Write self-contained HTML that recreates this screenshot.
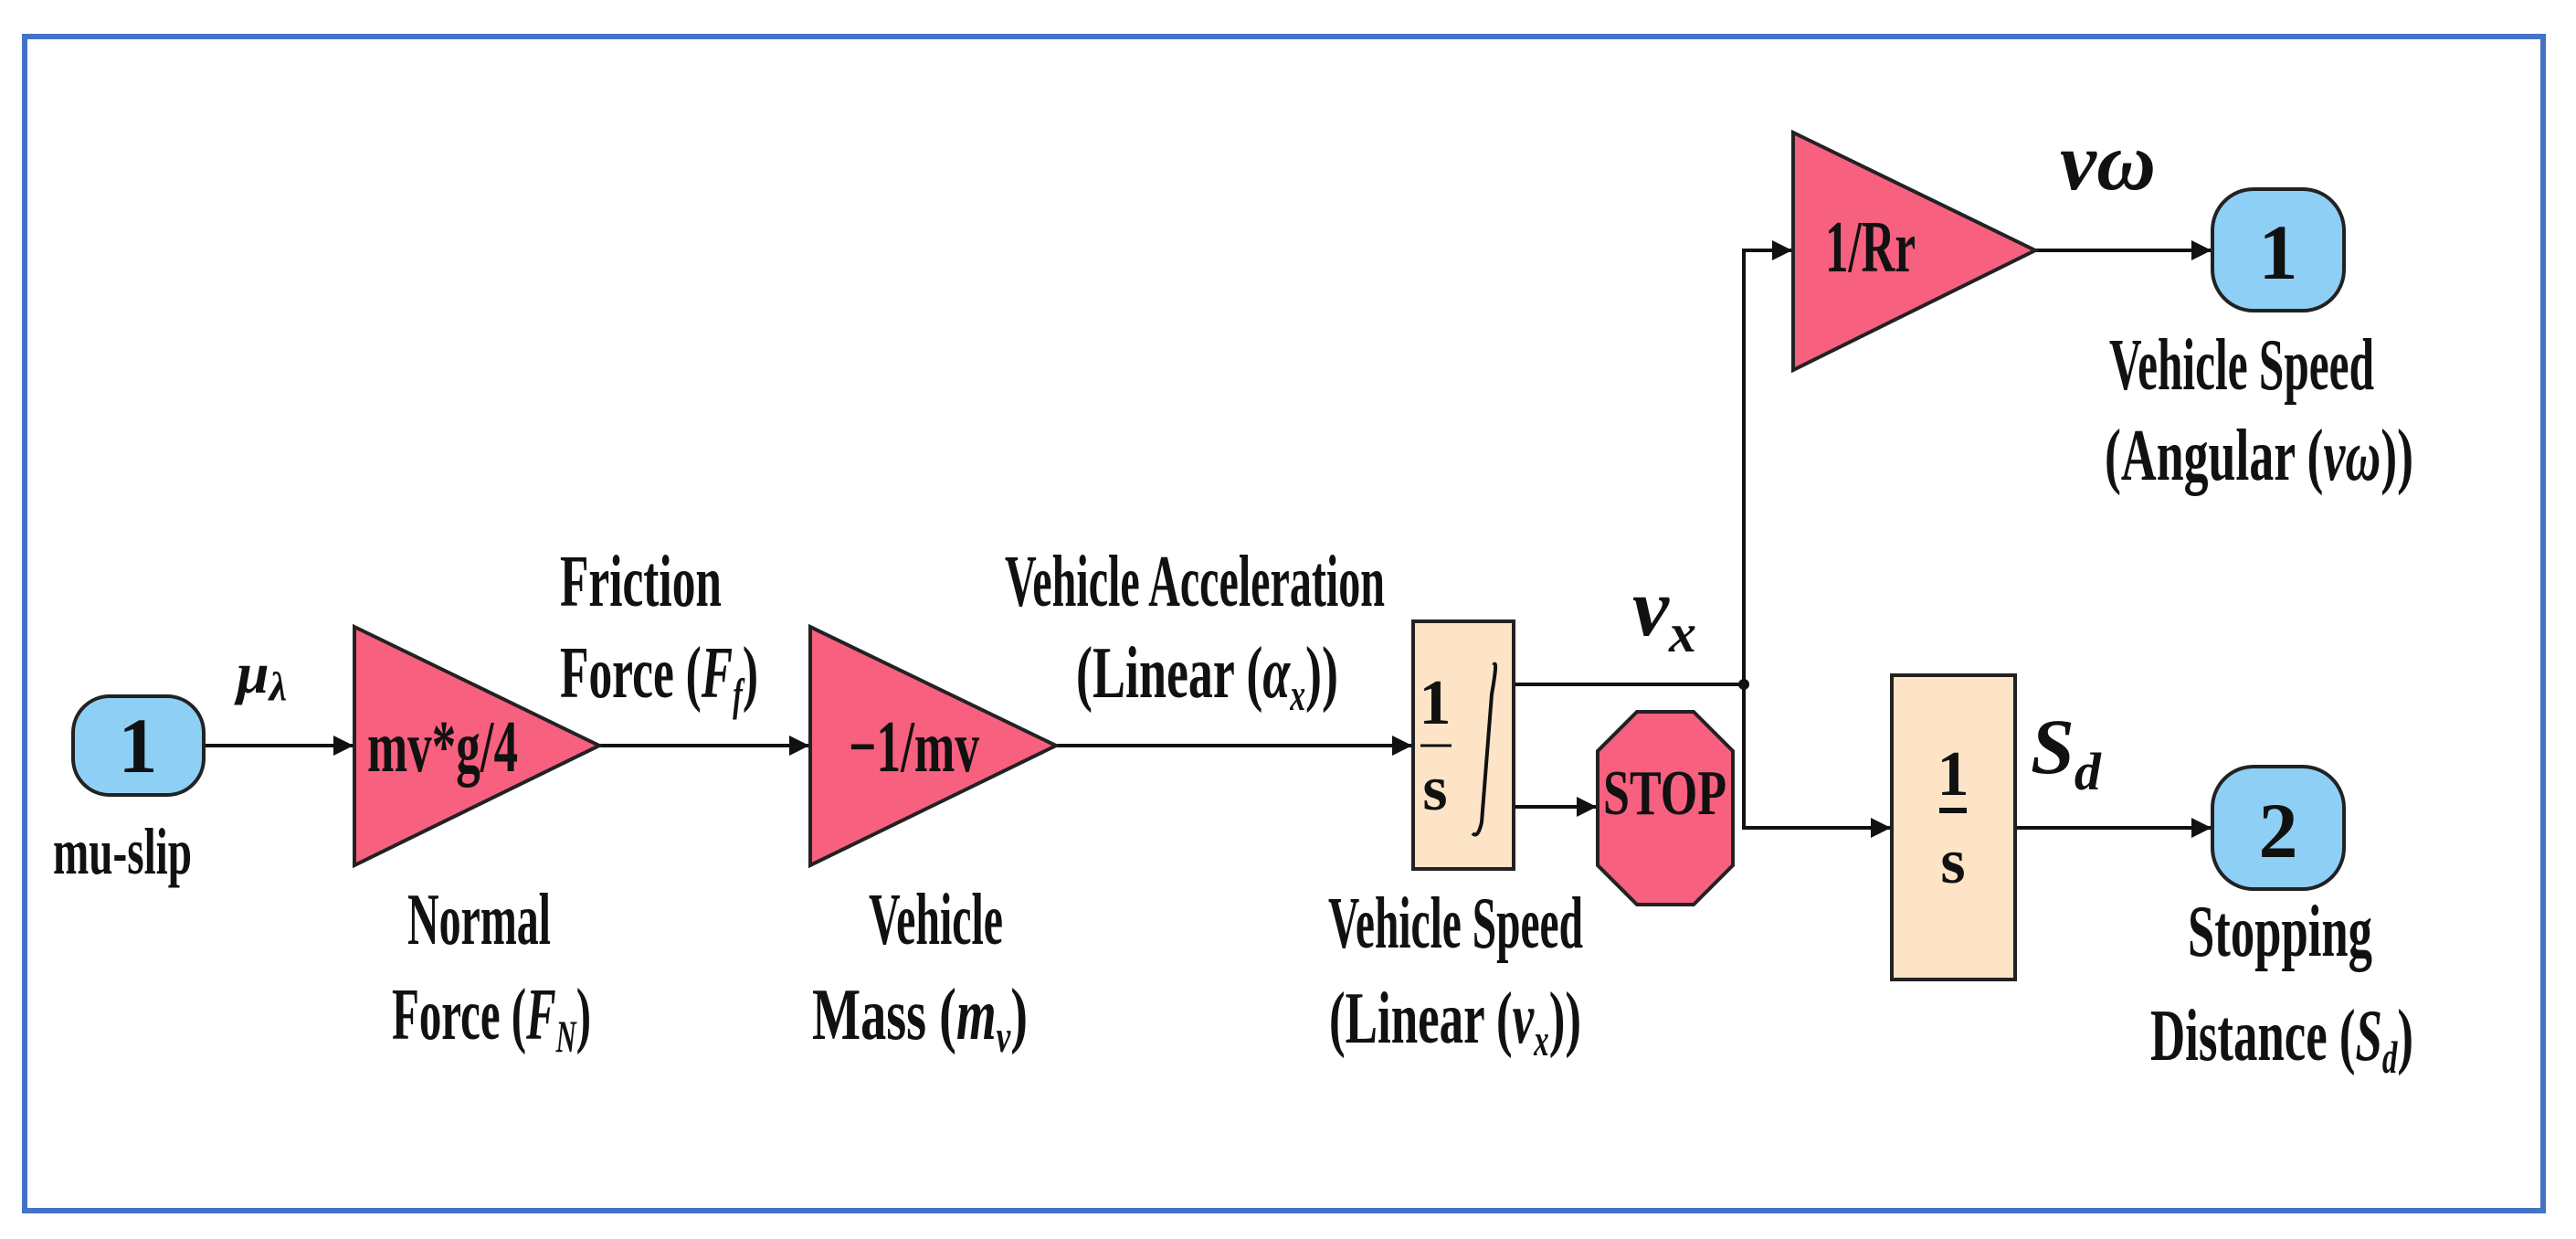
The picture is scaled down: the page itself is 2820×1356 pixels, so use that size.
<!DOCTYPE html>
<html><head><meta charset="utf-8"><style>
html,body{margin:0;padding:0;background:#fff;width:2820px;height:1356px;overflow:hidden}
svg{display:block}
text{font-family:"Liberation Serif","DejaVu Serif",serif;font-weight:bold;fill:#111}
.it{font-style:italic}
</style></head><body>
<svg width="2820" height="1356" viewBox="0 0 2820 1356" xmlns="http://www.w3.org/2000/svg">
<defs>
<marker id="b" markerWidth="22" markerHeight="22" refX="21" refY="11" orient="auto" markerUnits="userSpaceOnUse" viewBox="0 0 22 22"><path d="M0,0L22,11L0,22z" fill="#111"/></marker></defs>
<rect x="27" y="40" width="2757" height="1285" fill="none" stroke="#4472C4" stroke-width="6"/>
<g stroke="#111" stroke-width="4" fill="none">
<line x1="223" y1="816" x2="386" y2="816" marker-end="url(#b)"/>
<line x1="656" y1="816" x2="885" y2="816" marker-end="url(#b)"/>
<line x1="1156" y1="816" x2="1545" y2="816" marker-end="url(#b)"/>
<polyline points="1657,749 1909,749"/>
<polyline points="1909,749 1909,274 1961,274" marker-end="url(#b)"/>
<polyline points="1909,749 1909,906 2069,906" marker-end="url(#b)"/>
<line x1="1657" y1="883" x2="1747" y2="883" marker-end="url(#b)"/>
<line x1="2228" y1="274" x2="2420" y2="274" marker-end="url(#b)"/>
<line x1="2206" y1="906" x2="2420" y2="906" marker-end="url(#b)"/>
</g>
<circle cx="1909" cy="749" r="6" fill="#111"/>
<g stroke="#222" stroke-width="4">
<rect x="80" y="762" width="143" height="108" rx="40" fill="#8ECFF5"/>
<rect x="2422" y="207" width="144" height="133" rx="45" fill="#8ECFF5"/>
<rect x="2422" y="839" width="144" height="134" rx="45" fill="#8ECFF5"/>
<polygon points="388,686 656,816 388,947" fill="#F7607F"/>
<polygon points="887,686 1156,816 887,947" fill="#F7607F"/>
<polygon points="1963,145 2228,274 1963,405" fill="#F7607F"/>
<rect x="1547" y="680" width="110" height="271" fill="#FDE4C6"/>
<rect x="2071" y="739" width="135" height="333" fill="#FDE4C6"/>
<polygon points="1792,779 1854,779 1897,822 1897,947 1854,990 1792,990 1749,947 1749,822" fill="#F7607F"/>
</g>
<g font-size="80">
<text x="151" y="845" text-anchor="middle" font-size="86">1</text>
<text x="2494" y="305" text-anchor="middle" font-size="86">1</text>
<text x="2494" y="938" text-anchor="middle" font-size="86">2</text>
<text x="58" y="956" textLength="152" lengthAdjust="spacingAndGlyphs" font-size="72">mu-slip</text>
<text x="402" y="844" textLength="165" lengthAdjust="spacingAndGlyphs">mv*g/4</text>
<text x="929" y="844" textLength="143" lengthAdjust="spacingAndGlyphs">−1/mv</text>
<text x="1998" y="297" textLength="99" lengthAdjust="spacingAndGlyphs">1/Rr</text>
<text x="1755" y="891" textLength="135" lengthAdjust="spacingAndGlyphs" font-size="70">STOP</text>
<text x="613" y="663" textLength="177" lengthAdjust="spacingAndGlyphs">Friction</text>
<text x="613" y="763" textLength="217" lengthAdjust="spacingAndGlyphs">Force (<tspan class="it">F<tspan font-size="50" dy="14">f</tspan></tspan><tspan dy="-14">)</tspan></text>
<text x="446" y="1033" textLength="157" lengthAdjust="spacingAndGlyphs">Normal</text>
<text x="429" y="1137" textLength="218" lengthAdjust="spacingAndGlyphs">Force (<tspan class="it">F<tspan font-size="50" dy="14">N</tspan></tspan><tspan dy="-14">)</tspan></text>
<text x="951" y="1033" textLength="147" lengthAdjust="spacingAndGlyphs">Vehicle</text>
<text x="889" y="1137" textLength="236" lengthAdjust="spacingAndGlyphs">Mass (<tspan class="it">m<tspan font-size="50" dy="14">v</tspan></tspan><tspan dy="-14">)</tspan></text>
<text x="1100" y="663" textLength="416" lengthAdjust="spacingAndGlyphs">Vehicle Acceleration</text>
<text x="1178" y="763" textLength="287" lengthAdjust="spacingAndGlyphs">(Linear (<tspan class="it">α<tspan font-size="50" dy="14">x</tspan></tspan><tspan dy="-14">))</tspan></text>
<text x="1454" y="1037" textLength="279" lengthAdjust="spacingAndGlyphs">Vehicle Speed</text>
<text x="1455" y="1141" textLength="276" lengthAdjust="spacingAndGlyphs">(Linear (<tspan class="it">v<tspan font-size="50" dy="14">x</tspan></tspan><tspan dy="-14">))</tspan></text>
<text x="2309" y="426" textLength="290" lengthAdjust="spacingAndGlyphs">Vehicle Speed</text>
<text x="2304" y="525" textLength="338" lengthAdjust="spacingAndGlyphs">(Angular (<tspan class="it">vω</tspan>))</text>
<text x="2395" y="1046" textLength="202" lengthAdjust="spacingAndGlyphs">Stopping</text>
<text x="2354" y="1160" textLength="288" lengthAdjust="spacingAndGlyphs">Distance (<tspan class="it">S<tspan font-size="50" dy="14">d</tspan></tspan><tspan dy="-14">)</tspan></text>
<text class="it" x="259" y="758" font-size="64">μ<tspan font-size="44" dy="8">λ</tspan></text>
<text class="it" x="1787" y="695" font-size="90">v<tspan font-size="60" dy="18">x</tspan></text>
<text class="it" x="2255" y="207" font-size="90">vω</text>
<text class="it" x="2223" y="846" font-size="86">S<tspan font-size="58" dy="18">d</tspan></text>
<text x="1571" y="792" font-size="70" text-anchor="middle">1</text>
<text x="1571" y="886" font-size="70" text-anchor="middle">s</text>
<text x="2138" y="870" font-size="70" text-anchor="middle">1</text>
<text x="2138" y="966" font-size="70" text-anchor="middle">s</text>
</g>
<line x1="1555" y1="816" x2="1589" y2="816" stroke="#111" stroke-width="3"/>
<line x1="2123" y1="887" x2="2153" y2="887" stroke="#111" stroke-width="6"/>
<path d="M1635,728 Q1640,720 1633,760 L1622,900 Q1618,918 1612,912" fill="none" stroke="#111" stroke-width="4"/>
</svg>
</body></html>
